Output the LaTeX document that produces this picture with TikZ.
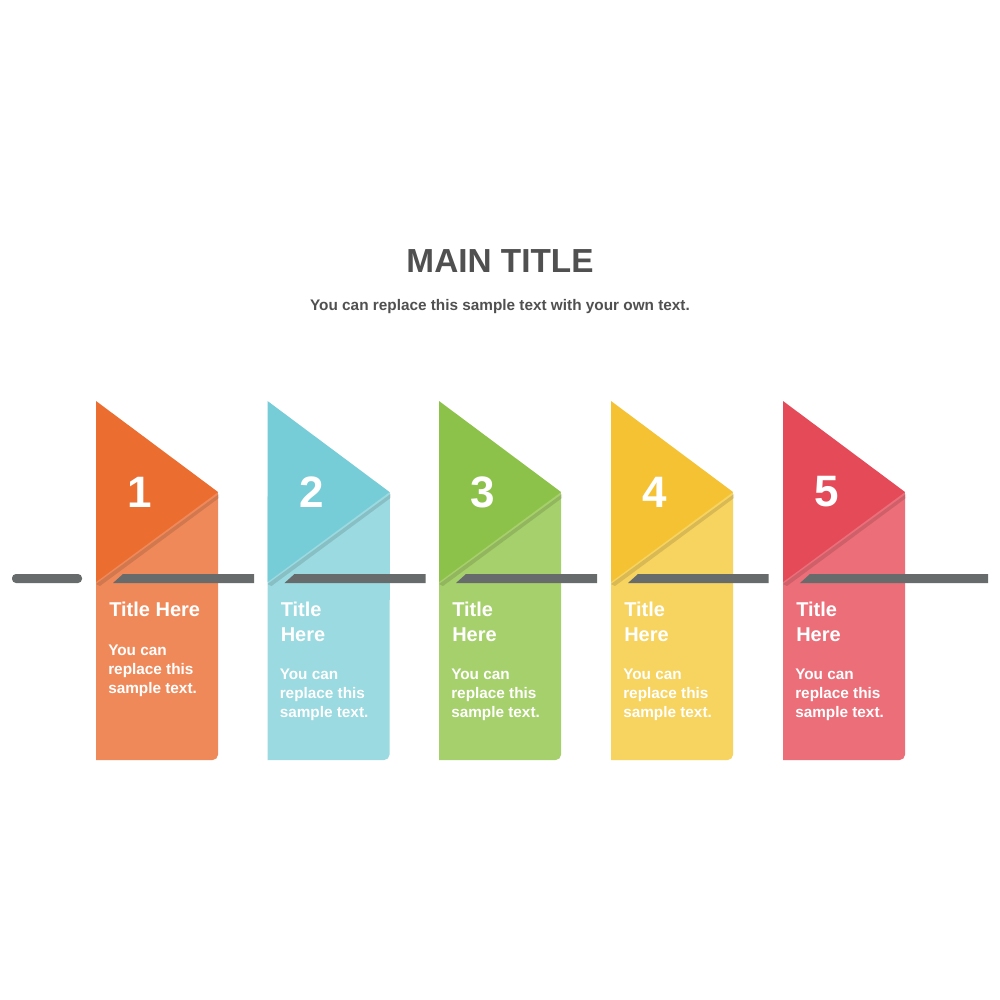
\documentclass[tikz,border=0pt]{standalone}
\usepackage{fontspec}
\setmainfont{Liberation Sans}
\definecolor{c1a}{HTML}{EC6D30}\definecolor{c1b}{HTML}{F0895A}
\definecolor{c2a}{HTML}{76CDD7}\definecolor{c2b}{HTML}{9ADAE0}
\definecolor{c3a}{HTML}{8DC24A}\definecolor{c3b}{HTML}{A6D06B}
\definecolor{c4a}{HTML}{F5C234}\definecolor{c4b}{HTML}{F7D35F}
\definecolor{c5a}{HTML}{E44A58}\definecolor{c5b}{HTML}{EC6E79}
\definecolor{barc}{HTML}{676B6B}
\definecolor{tgray}{HTML}{505050}
\tikzset{ttl/.style={anchor=north west,text=white,font=\bfseries\fontsize{15}{18.5}\selectfont,align=left,inner sep=0pt},
body/.style={anchor=north west,text=white,font=\bfseries\fontsize{11.5}{14}\selectfont,align=left,inner sep=0pt},
num/.style={text=white,font=\bfseries\fontsize{33}{36}\selectfont}}
\begin{document}
\begin{tikzpicture}[x=0.75pt,y=-0.75pt]
\useasboundingbox[fill=white] (0,0) rectangle (1000,1000);
\node[font=\bfseries\fontsize{25}{30}\selectfont,text=tgray] (mt) at (500,261) {MAIN TITLE};
\node[font=\bfseries\fontsize{11.5}{14}\selectfont,text=tgray] (st) at (500,307) {You can replace this sample text with your own text.};
\fill[barc,rounded corners=3pt] (12,574) rectangle (82,583);
\foreach \i/\x/\t/\bt/\by in {1/96/{Title Here}/{You can\\replace this\\sample text.}/645,
 2/267.5/{Title\\Here}/{You can\\replace this\\sample text.}/669,
 3/439/{Title\\Here}/{You can\\replace this\\sample text.}/669,
 4/611/{Title\\Here}/{You can\\replace this\\sample text.}/669,
 5/783/{Title\\Here}/{You can\\replace this\\sample text.}/669}{
 \fill[c\i b,rounded corners=4pt] (\x,760) -- (\x+122,760) -- (\x+122,492) -- (\x,492) [sharp corners] -- cycle;
 \fill[c\i b] (\x,492) rectangle (\x+122,600);
 \fill[black,opacity=0.12] (\x,584) -- (\x+123,494) -- (\x+123,498) -- (\x+4,586) -- cycle;
 \fill[c\i a] (\x,401) -- (\x+122,492) -- (\x,582) -- cycle;
 \node[num] (n\i) at (\x+44,492) {\i};
 \node[ttl] (t\i) at (\x+13,602) {\t};
 \node[body] (b\i) at (\x+12,\by) {\bt};
}
\foreach \x/\e in {96/254, 267.5/425.5, 439/597, 611/768.5, 783/988}{
 \fill[barc] (\x+17,583) -- (\x+27,574) -- (\e,574) -- (\e,583) -- cycle;
}
\end{tikzpicture}
\end{document}
